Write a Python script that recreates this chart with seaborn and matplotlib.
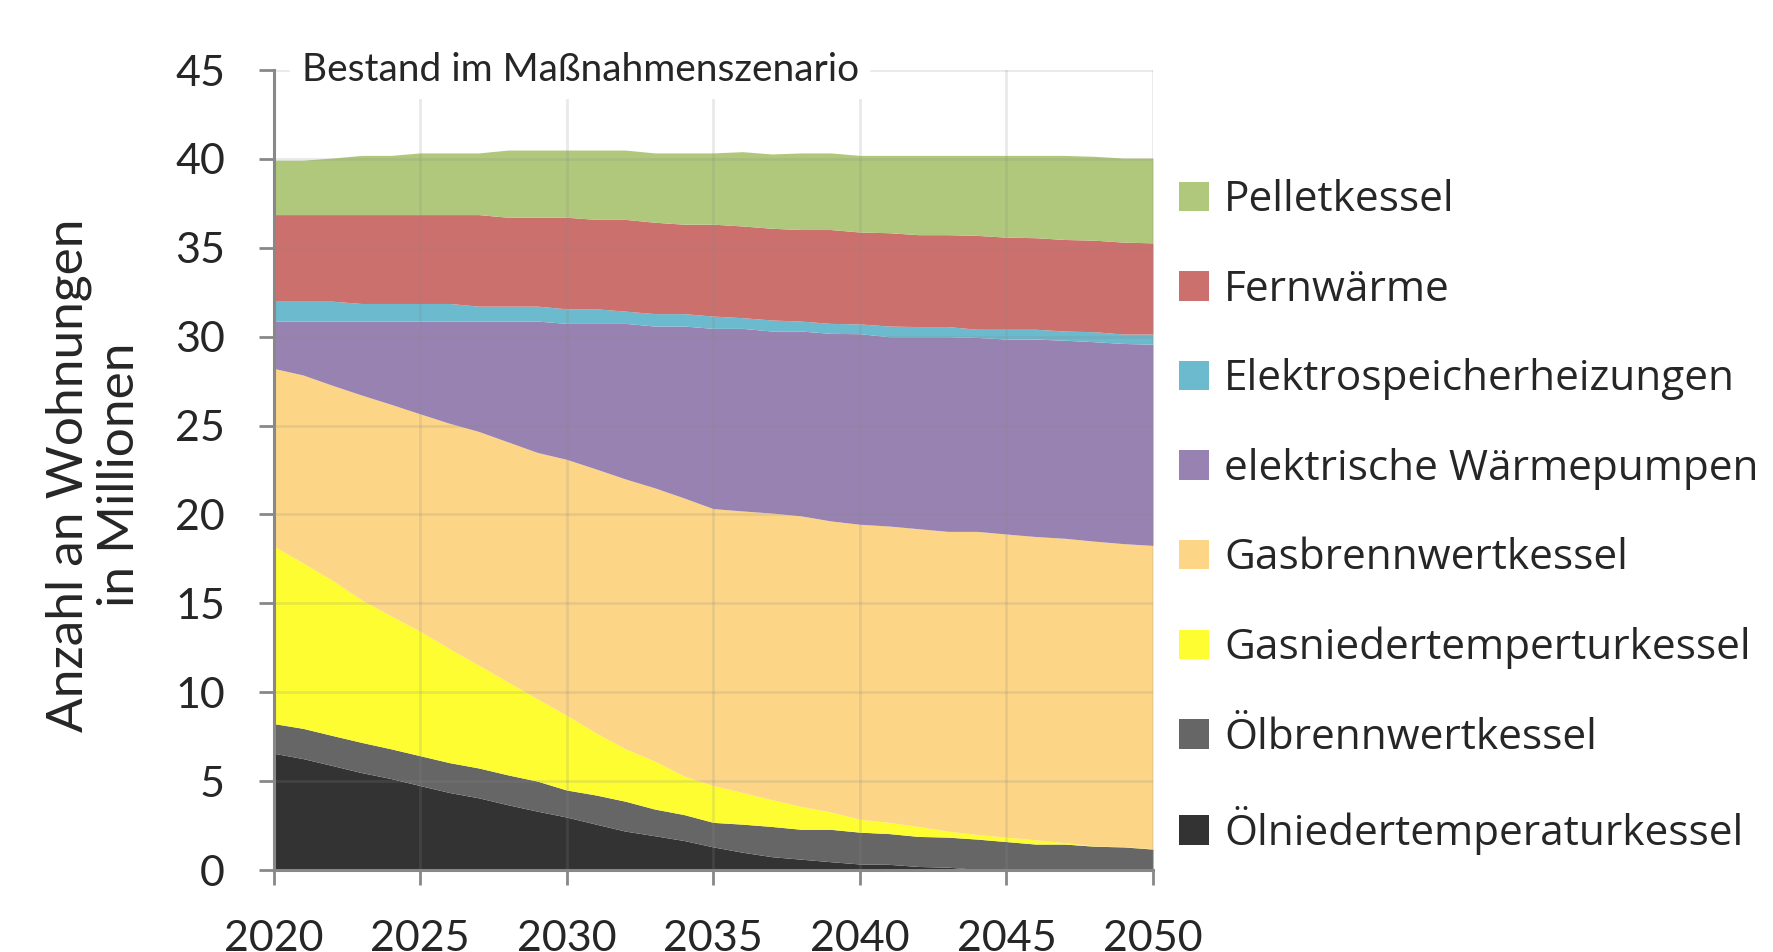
import numpy as np
import matplotlib
matplotlib.use("Agg")
import matplotlib.pyplot as plt
from matplotlib.patches import Patch
import seaborn as sns

years = list(range(2020, 2051))

oel_nieder = [6.57, 6.27, 5.88, 5.48, 5.15, 4.75, 4.36, 4.06, 3.67, 3.31, 2.98, 2.58, 2.19, 1.93, 1.66, 1.30,
              1.00, 0.75, 0.61, 0.47, 0.34, 0.32, 0.20, 0.16, 0.04, 0.00, 0.00, 0.00, 0.00, 0.00, 0.00]
oel_brenn = [1.67, 1.70, 1.69, 1.70, 1.67, 1.68, 1.68, 1.68, 1.68, 1.69, 1.52, 1.64, 1.68, 1.50, 1.46, 1.38,
             1.58, 1.70, 1.68, 1.82, 1.79, 1.73, 1.69, 1.69, 1.70, 1.60, 1.46, 1.46, 1.34, 1.30, 1.18]
gas_nieder = [9.98, 9.31, 8.73, 8.02, 7.48, 7.00, 6.41, 5.78, 5.22, 4.63, 4.20, 3.49, 2.95, 2.70, 2.17, 2.07,
              1.78, 1.51, 1.28, 0.98, 0.73, 0.63, 0.56, 0.34, 0.26, 0.25, 0.24, 0.08, 0.02, 0.01, 0.02]
gas_brenn = [10.00, 10.57, 10.97, 11.52, 11.90, 12.23, 12.68, 13.15, 13.51, 13.86, 14.40, 14.85, 15.18, 15.37,
             15.64, 15.58, 15.84, 16.12, 16.35, 16.37, 16.59, 16.67, 16.75, 16.86, 17.05, 17.05, 17.06, 17.12,
             17.14, 17.05, 17.06]
waermepumpen = [2.66, 3.03, 3.61, 4.16, 4.68, 5.22, 5.75, 6.21, 6.80, 7.39, 7.65, 8.19, 8.75, 9.10, 9.67, 10.14,
                10.27, 10.24, 10.40, 10.55, 10.72, 10.65, 10.80, 10.95, 10.91, 10.97, 11.11, 11.14, 11.22, 11.26,
                11.32]
elektrospeicher = [1.12, 1.12, 1.12, 0.99, 0.99, 0.99, 0.99, 0.84, 0.84, 0.84, 0.82, 0.82, 0.69, 0.70, 0.70, 0.69,
                   0.60, 0.62, 0.56, 0.56, 0.55, 0.60, 0.57, 0.57, 0.46, 0.55, 0.55, 0.52, 0.56, 0.53, 0.57]
fernwaerme = [4.87, 4.87, 4.87, 5.00, 5.00, 5.00, 5.00, 5.15, 5.00, 5.00, 5.15, 5.03, 5.16, 5.14, 5.03, 5.17,
              5.16, 5.16, 5.15, 5.28, 5.17, 5.25, 5.17, 5.17, 5.28, 5.18, 5.15, 5.15, 5.15, 5.17, 5.13]
pellet = [3.06, 3.06, 3.18, 3.33, 3.33, 3.47, 3.47, 3.47, 3.78, 3.78, 3.78, 3.90, 3.90, 3.90, 4.01, 4.01,
          4.18, 4.18, 4.31, 4.31, 4.31, 4.35, 4.46, 4.46, 4.50, 4.60, 4.63, 4.73, 4.72, 4.73, 4.77]

labels = ["Ölniedertemperaturkessel", "Ölbrennwertkessel", "Gasniedertemperturkessel", "Gasbrennwertkessel",
          "elektrische Wärmepumpen", "Elektrospeicherheizungen", "Fernwärme", "Pelletkessel"]
colors = ["#333333", "#666666", "#FDFD32", "#FDD586", "#9882B2", "#6CBACD", "#CC706D", "#B0C87C"]

x_ticks = [2020, 2025, 2030, 2035, 2040, 2045, 2050]
y_ticks = [0, 5, 10, 15, 20, 25, 30, 35, 40, 45]
title = "Bestand im Maßnahmenszenario"
ylabel = "Anzahl an Wohnungen\nin Millionen"

sns.set_theme(style="white")
plt.rcParams["font.family"] = ["Lato", "DejaVu Sans"]

fig = plt.figure(figsize=(17.73, 9.52), dpi=100)
ax = fig.add_axes([0.1543, 0.0861, 0.4960, 0.8403])

series = [oel_nieder, oel_brenn, gas_nieder, gas_brenn, waermepumpen, elektrospeicher, fernwaerme, pellet]
ax.stackplot(years, *series, colors=colors, labels=labels, linewidth=0, zorder=1)

ax.set_xlim(2020, 2050)
ax.set_ylim(0, 45)
ax.set_xticks(x_ticks)
ax.set_yticks(y_ticks)
ax.grid(True, color="#888888", alpha=0.18, linewidth=2, zorder=3)
ax.set_axisbelow(False)

for s in ["top", "right"]:
    ax.spines[s].set_visible(False)
for s in ["left", "bottom"]:
    ax.spines[s].set_color("#888888")
    ax.spines[s].set_linewidth(2.2)
    ax.spines[s].set_zorder(4)

ax.tick_params(axis="y", which="both", direction="out", length=11, width=2, color="#888888",
               pad=24, labelsize=31, left=True)
ax.tick_params(axis="x", which="both", direction="out", length=11, width=2, color="#888888",
               pad=25, labelsize=31, bottom=True)

ax.set_ylabel(ylabel, fontsize=37, linespacing=1.12, va="center")
ax.yaxis.set_label_coords(-0.204, 0.494)

ax.text(0.032, 1.0, title, transform=ax.transAxes, fontsize=28, ha="left", va="center",
        bbox=dict(facecolor="white", edgecolor="none", pad=8), zorder=5)

handles = [Patch(facecolor=c, edgecolor="none") for c in colors][::-1]
fig.legend(handles, labels[::-1], loc="upper left", bbox_to_anchor=(0.6652, 0.8115), frameon=False,
           prop={"family": ["Open Sans", "DejaVu Sans"], "size": 30.5}, handlelength=0.7, handleheight=0.7,
           handletextpad=0.35, labelspacing=1.12, borderaxespad=0, borderpad=0)

fig.savefig("out.png", dpi=100)
